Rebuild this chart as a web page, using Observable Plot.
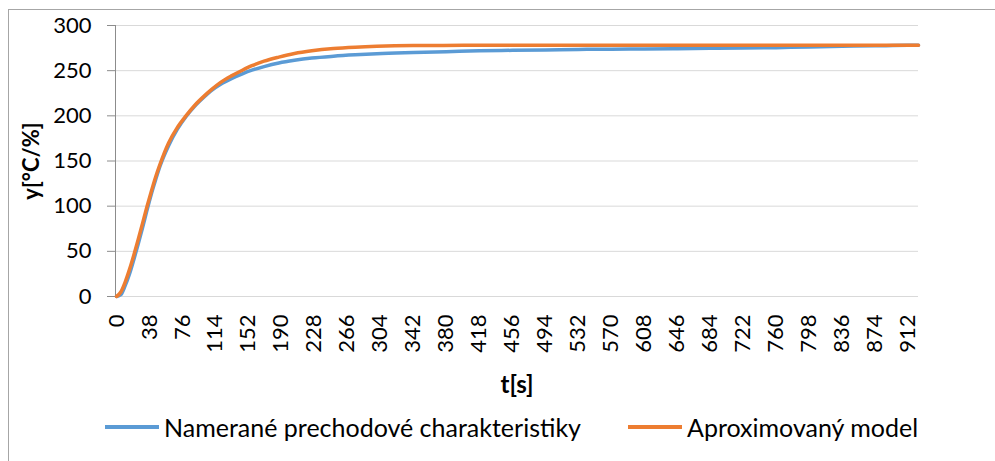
<!DOCTYPE html>
<html><head><meta charset="utf-8">
<script src="https://cdn.jsdelivr.net/npm/d3@7"></script>
<script src="https://cdn.jsdelivr.net/npm/@observablehq/plot@0.6"></script>
<style>
html,body{margin:0;padding:0;background:#fff;}
#wrap{position:relative;width:995px;height:461px;overflow:hidden;font-family:Lato, sans-serif;}
#border{position:absolute;left:8px;top:9px;width:1200px;height:600px;border-left:1px solid #A6A6A6;border-top:1px solid #A6A6A6;}
#chart{position:absolute;left:0;top:0;}
#legend{position:absolute;left:0;top:412px;width:995px;height:30px;font-size:25px;color:#000;}
.item{position:absolute;top:0;display:flex;align-items:center;height:30px;white-space:nowrap;}
.swatch{width:54px;height:4px;margin-right:5px;}
g[aria-label="x-axis label"] text{font-weight:bold;font-size:24px;}
g[aria-label="y-axis label"] text{font-weight:bold;font-size:22px;}
</style></head><body>
<div id="wrap"><div id="border"></div><div id="chart"></div><div id="legend"></div></div>
<script>
const seriesNames = ["Namerané prechodové charakteristiky", "Aproximovaný model"];
const seriesColors = ["#5B9BD5", "#ED7D31"];

const tMeasured = [0,5,10,15,20,25,30,35,40,45,50,60,70,80,90,100,110,120,133,145,156,170,187,205,225,250,275,300,342,380,418,456,494,532,570,608,646,684,722,760,798,836,874,912,924];
const yMeasured = [0,2,12,25,41,58,76,95,113,129,144,167,185,199,210.5,220,228.5,235,241.5,246.5,250.5,254.5,258.5,261.5,264,266,267.5,268.7,270,271,272,272.5,273,273.5,273.8,274,274.3,274.7,275,275.5,276.3,277,277.5,278,278];

const tModel = [0,5,10,15,20,25,30,35,40,45,50,60,70,80,90,100,110,120,133,145,156,170,187,205,225,250,275,300,342,400,500,924];
const yModel = [0,5,16,30,46,63,81,99,116,132,146,170,187,200,211.5,221,229.5,237,244.5,250.5,255.5,260.5,265,269,272,274.5,276,277,277.8,278,278,278];

const xTicks = [0,38,76,114,152,190,228,266,304,342,380,418,456,494,532,570,608,646,684,722,760,798,836,874,912];
const yTicks = [0,50,100,150,200,250,300];

const data = [
  ...tMeasured.map((t, i) => ({t, v: yMeasured[i], s: seriesNames[0]})),
  ...tModel.map((t, i) => ({t, v: yModel[i], s: seriesNames[1]}))
];

const chart = Plot.plot({
  width: 995,
  height: 405,
  marginLeft: 115,
  marginRight: 77,
  marginTop: 25,
  marginBottom: 109,
  style: {fontFamily: "Lato, sans-serif", fontSize: "22px", color: "#000", background: "transparent"},
  x: {domain: [-1.15, 924]},
  y: {domain: [0, 300]},
  color: {domain: seriesNames, range: seriesColors},
  marks: [
    Plot.gridY(yTicks, {stroke: "#D9D9D9", strokeOpacity: 1, strokeWidth: 1}),
    Plot.ruleX([-1.15], {stroke: "#8C8C8C", strokeWidth: 1}),
    Plot.axisY(yTicks, {tickSize: 8, tickPadding: 16, stroke: "#8C8C8C", fill: "#000", label: "y[°C/%]", labelAnchor: "center", labelArrow: "none", labelOffset: 92, tickFormat: d => String(d)}),
    Plot.axisX(xTicks, {tickSize: 0, tickRotate: -90, tickPadding: 18, fill: "#000", label: "t[s]", labelAnchor: "center", labelArrow: "none", labelOffset: 96, tickFormat: d => String(d)}),
    Plot.line(data, {x: "t", y: "v", z: "s", stroke: "s", strokeWidth: 3.5, curve: "monotone-x"})
  ]
});
document.getElementById("chart").appendChild(chart);

const legend = document.getElementById("legend");
const lefts = [105, 628];
seriesNames.forEach((name, i) => {
  const item = document.createElement("div");
  item.className = "item";
  item.style.left = lefts[i] + "px";
  const sw = document.createElement("div");
  sw.className = "swatch";
  sw.style.background = seriesColors[i];
  const tx = document.createElement("span");
  tx.textContent = name;
  item.appendChild(sw); item.appendChild(tx);
  legend.appendChild(item);
});
</script>
</body></html>
